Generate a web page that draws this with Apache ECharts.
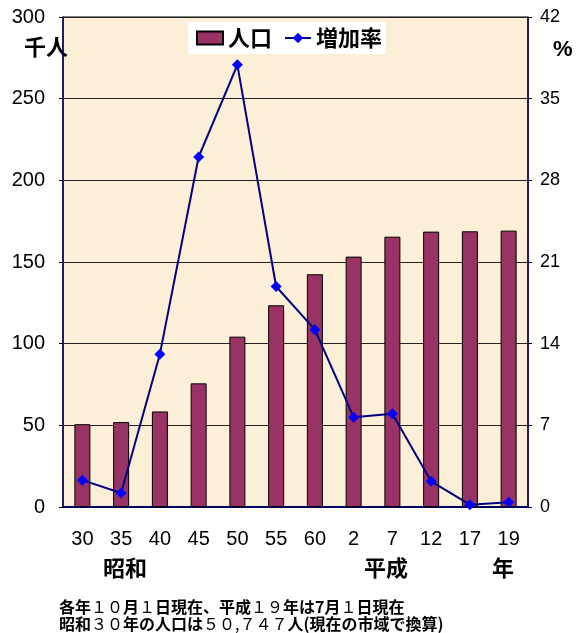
<!DOCTYPE html>
<html><head><meta charset="utf-8">
<script src="https://cdn.jsdelivr.net/npm/echarts@6/dist/echarts.min.js"></script>
<style>html,body{margin:0;padding:0;background:#fff}#c{width:576px;height:633px}</style>
</head><body><div id="c"></div>
<script>
const categories = ['30','35','40','45','50','55','60','2','7','12','17','19'];
const population = [50.7, 52.0, 58.5, 75.7, 104.3, 123.5, 142.5, 153.3, 165.5, 168.6, 168.8, 169.2];
const growthRate = [2.3, 1.2, 13.1, 30.0, 37.9, 18.9, 15.2, 7.7, 8.0, 2.2, 0.2, 0.4];
const eraLabels = [{text:'昭和', x:125}, {text:'平成', x:386}, {text:'年', x:503}];
const noteLines = ['各年{n|１０}月{n|１}日現在、平成{n|１９}年は7月{n|１}日現在', '昭和{n|３０}年の人口は{n|５０,７４７}人(現在の市域で換算)'];

const jp = '"Noto Sans CJK JP", sans-serif';
const num = '"Liberation Sans", Arial, sans-serif';
const chart = echarts.init(document.getElementById('c'), null, {renderer:'canvas'});
const graphics = [];
eraLabels.forEach(e => graphics.push({type:'text', x:e.x, y:568, style:{text:e.text, font:'bold 22px ' + jp, fill:'#000', textAlign:'center', textVerticalAlign:'middle'}}));
noteLines.forEach((t,i) => graphics.push({type:'text', x:59, y:607 + i*17, style:{
  text:t, fontFamily:jp, fontWeight:'bold', fontSize:16, fill:'#000', textVerticalAlign:'middle',
  rich:{n:{fontFamily:jp, fontWeight:'normal', fontSize:16, fill:'#000'}}
}}));
graphics.push({type:'text', x:24, y:47, style:{text:'千人', font:'bold 22px ' + jp, fill:'#000', textVerticalAlign:'middle'}});
graphics.push({type:'text', x:553, y:50, style:{text:'%', font:'bold 22px ' + num, fill:'#000', textVerticalAlign:'middle'}});

chart.setOption({
  animation:false,
  backgroundColor:'#fff',
  grid:{left:63, right:48, top:17, bottom:126, show:true, backgroundColor:'#FBEFD8', borderColor:'#000', borderWidth:1},
  legend:{
    left:188, top:22, backgroundColor:'#fff', padding:[5,4,5,8], itemGap:12,
    itemWidth:26, itemHeight:13,
    textStyle:{fontFamily:jp, fontWeight:'bold', fontSize:22, color:'#000'},
    data:[{name:'人口', icon:'rect'}, {name:'増加率'}]
  },
  xAxis:{
    type:'category', data:categories, boundaryGap:true,
    axisLine:{lineStyle:{color:'#000060', width:2}},
    axisTick:{inside:true, length:5, lineStyle:{color:'#000'}},
    axisLabel:{fontFamily:num, fontSize:20, color:'#000', margin:22}
  },
  yAxis:[{
    type:'value', min:0, max:300, interval:50,
    axisLine:{show:true, lineStyle:{color:'#000060', width:1.5}},
    axisTick:{show:true, length:4, lineStyle:{color:'#000'}},
    axisLabel:{fontFamily:num, fontSize:20, color:'#000', margin:18},
    splitLine:{lineStyle:{color:'#222', width:1}}
  },{
    type:'value', min:0, max:42, interval:7,
    axisLine:{show:true, lineStyle:{color:'#000060', width:1.5}},
    axisTick:{show:true, length:4, lineStyle:{color:'#000'}},
    axisLabel:{fontFamily:num, fontSize:18, color:'#000', margin:12},
    splitLine:{show:false}
  }],
  series:[{
    name:'人口', type:'bar', data:population, barWidth:16,
    itemStyle:{color:'#993366', borderColor:'#000', borderWidth:1}
  },{
    name:'増加率', type:'line', yAxisIndex:1, data:growthRate,
    symbol:'diamond', symbolSize:11,
    lineStyle:{color:'#000080', width:2},
    itemStyle:{color:'#0000FF'}
  }],
  graphic:graphics
});
</script></body></html>
